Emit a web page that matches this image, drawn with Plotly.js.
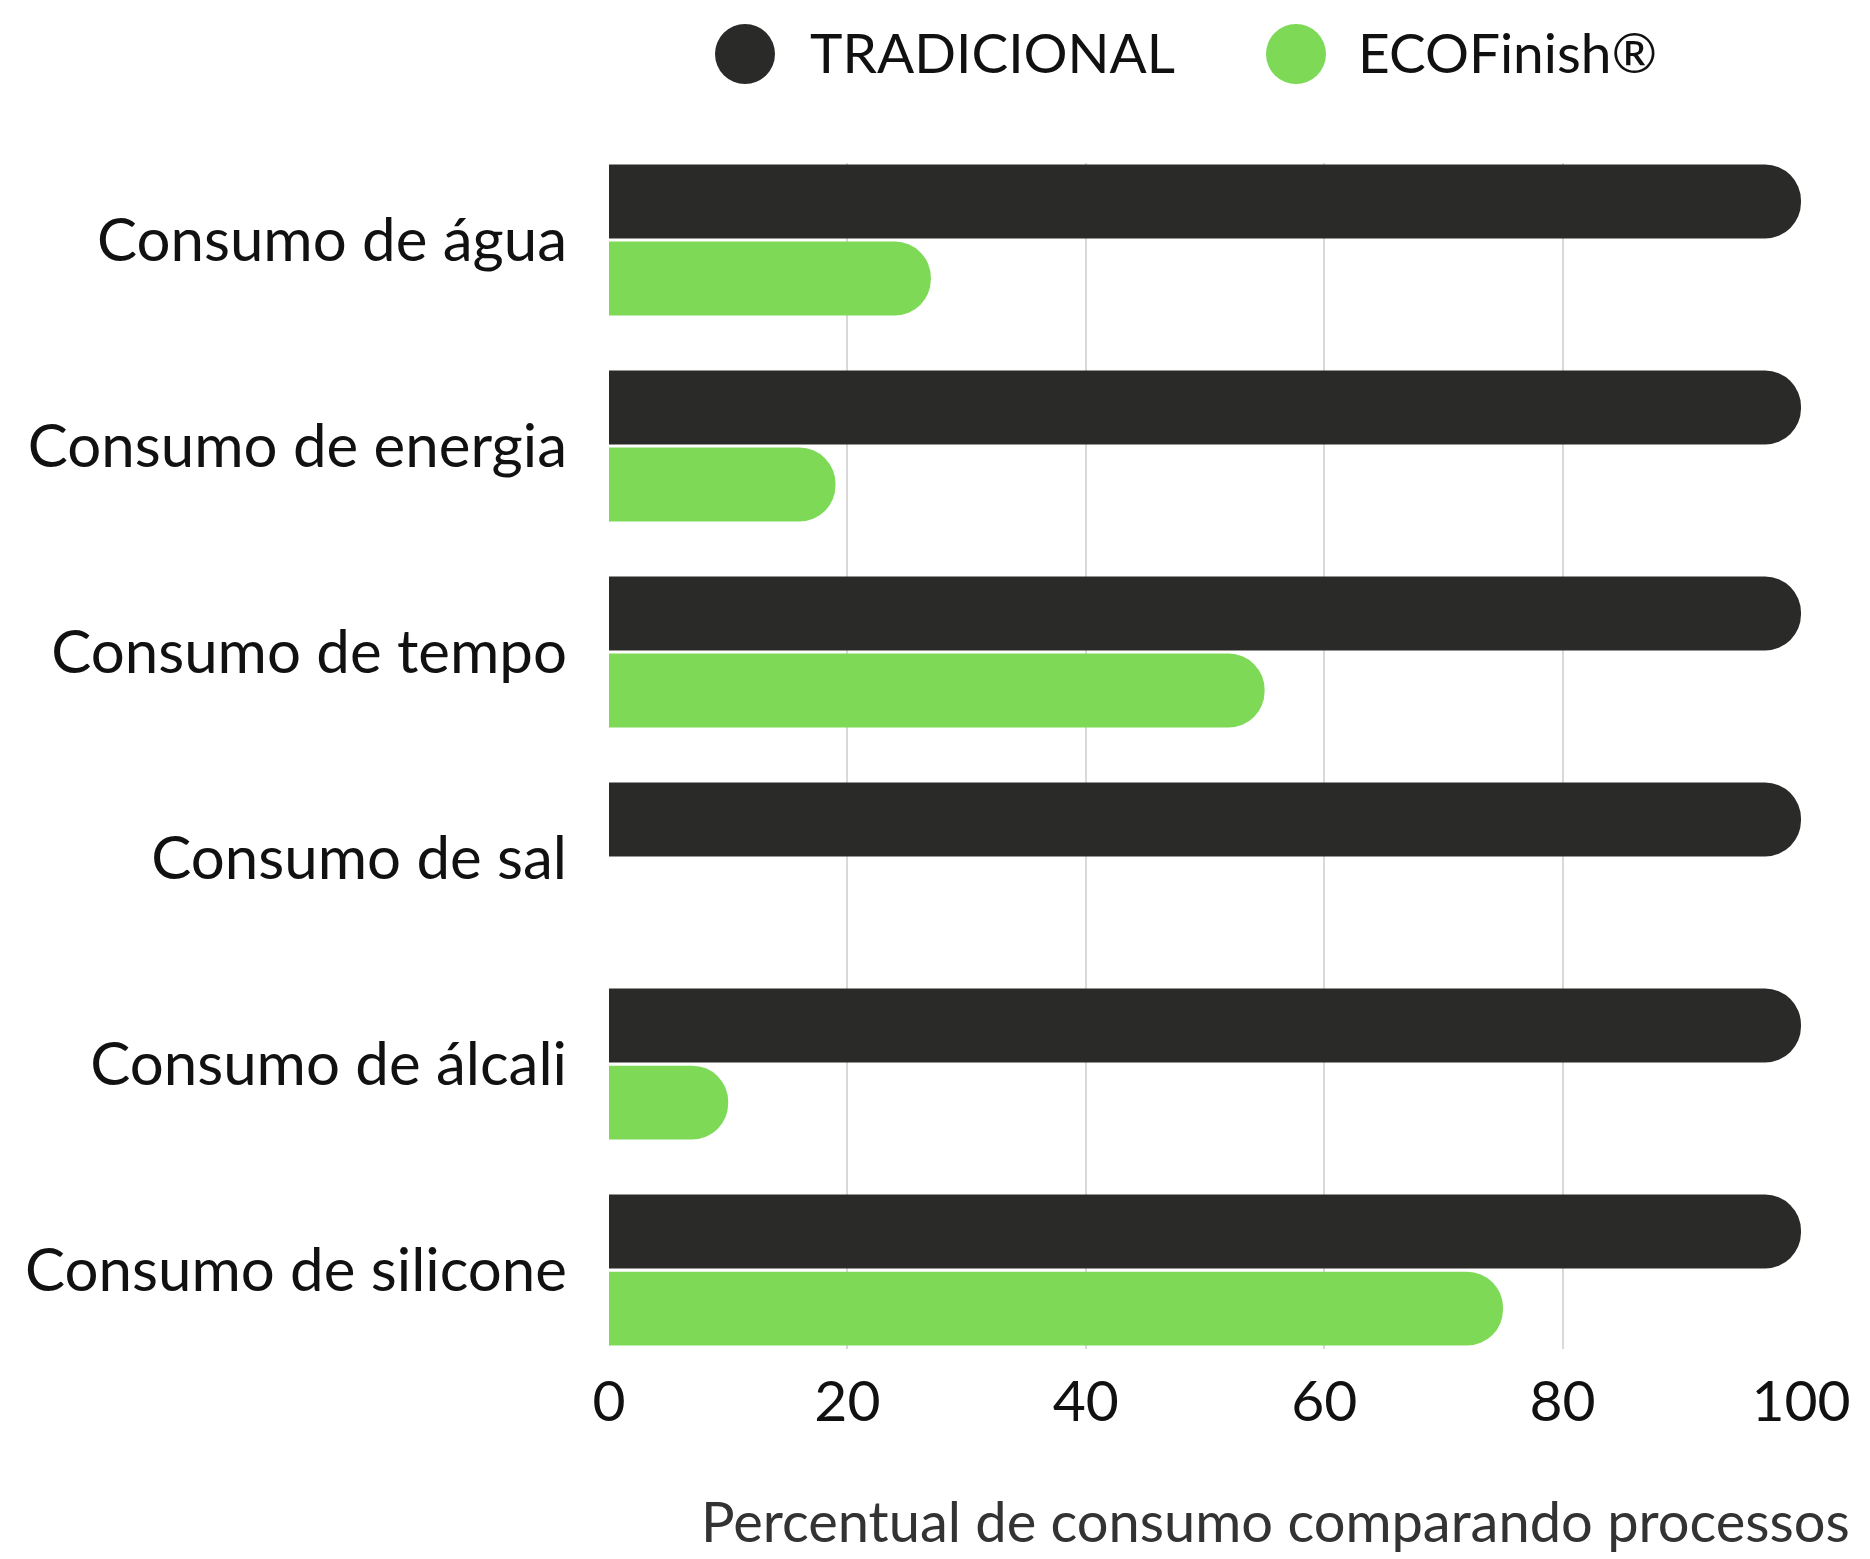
<!DOCTYPE html>
<html>
<head>
<meta charset="utf-8">
<script src="https://cdn.plot.ly/plotly-3.0.1.min.js"></script>
<style>html,body{margin:0;padding:0;background:#fff;}#chart{width:1870px;height:1559px;}</style>
</head>
<body>
<div id="chart"></div>
<script>
const categories = ["Consumo de água", "Consumo de energia", "Consumo de tempo", "Consumo de sal", "Consumo de álcali", "Consumo de silicone"];
const tradicional = [100, 100, 100, 100, 100, 100];
const ecofinish = [27, 19, 55, 0, 10, 75];
const seriesNames = ["TRADICIONAL", "ECOFinish®"];
const xTicks = [0, 20, 40, 60, 80, 100];
const axisTitle = "Percentual de consumo comparando processos";

const colors = ["#2a2a29", "#7ed957"];
const FONT = "Lato, 'Open Sans', sans-serif";

const W = 1870, H = 1559;
const L = 609, R = 1801, T = 163, B = 1349;
const px2x = x => (x - L) / (R - L);
const px2y = y => (B - y) / (B - T);

const traces = [tradicional, ecofinish].map((vals, i) => ({
  type: "bar",
  orientation: "h",
  name: seriesNames[i],
  y: categories,
  x: vals,
  marker: { color: colors[i], cornerradius: "50%", line: { width: 0 } },
  hoverinfo: "x+y+name"
}));

const legendShapes = [745, 1296].map((cx, i) => ({
  type: "circle", xref: "paper", yref: "paper",
  xsizemode: "pixel", ysizemode: "pixel",
  xanchor: px2x(cx), yanchor: px2y(54),
  x0: -30, x1: 30, y0: -30, y1: 30,
  fillcolor: colors[i], line: { width: 0 }
}));

const legendText = [808, 1356].map((lx, i) => ({
  xref: "paper", yref: "paper", x: px2x(lx), y: px2y(52),
  xanchor: "left", yanchor: "middle", showarrow: false,
  text: seriesNames[i], font: { family: FONT, size: 55, color: "#111" }
}));

const layout = {
  width: W, height: H,
  margin: { l: L, r: W - R, t: T, b: H - B, pad: 0 },
  paper_bgcolor: "#fff", plot_bgcolor: "#fff",
  showlegend: false,
  barmode: "group",
  bargap: 0.252,
  bargroupgap: 0.04,
  font: { family: FONT, color: "#111" },
  xaxis: {
    range: [0, 100], tickvals: xTicks, ticktext: xTicks.map(String),
    showgrid: true, gridcolor: "#d9d9d9", gridwidth: 2,
    zeroline: false, showline: false, ticks: "",
    tickfont: { family: FONT, size: 57, color: "#111" },
    ticklabelstandoff: 14, fixedrange: true
  },
  yaxis: {
    type: "category", range: [5.383, -0.374],
    showgrid: false, zeroline: false, showline: false, ticks: "",
    tickfont: { family: FONT, size: 60, color: "#111" },
    ticklabelstandoff: 41, automargin: false, fixedrange: true
  },
  shapes: legendShapes,
  annotations: legendText.concat([{
    xref: "paper", yref: "paper", x: px2x(1852), y: px2y(1520),
    xanchor: "right", yanchor: "middle", showarrow: false,
    text: axisTitle, font: { family: FONT, size: 56, color: "#333" }
  }])
};

Plotly.newPlot("chart", traces, layout, { displayModeBar: false, staticPlot: true });
</script>
</body>
</html>
